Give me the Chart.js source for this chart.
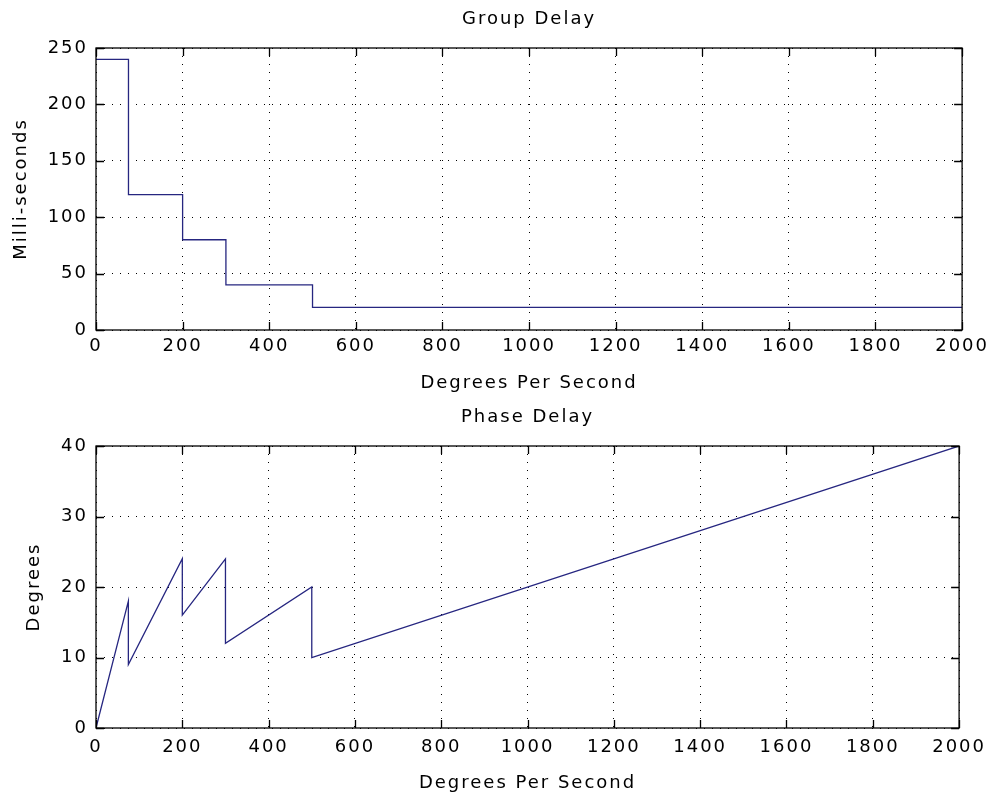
<!DOCTYPE html>
<html lang="en">
  <head>
    <meta charset="UTF-8" />
    <title>Group Delay / Phase Delay</title>
    <style>
      body { margin: 0; background: #fff; }
      canvas { display: block; }
    </style>
  </head>
  <body>
    <canvas id="groupChart" width="995" height="400"></canvas>
    <canvas id="phaseChart" width="995" height="400"></canvas>

    <script src="https://cdn.jsdelivr.net/npm/chart.js@4.4.0/dist/chart.umd.min.js"></script>
    <script>
      const groupFreq = [0, 75, 75, 200, 200, 300, 300, 500, 500, 2000];
      const groupDelay = [240, 240, 120, 120, 80, 80, 40, 40, 20, 20];

      const phaseFreq = [0, 75, 75, 200, 200, 300, 300, 500, 500, 2000];
      const phaseDeg = [0, 18, 9, 24, 16, 24, 12, 20, 10, 40];

      const xTicks = [0, 200, 400, 600, 800, 1000, 1200, 1400, 1600, 1800, 2000];

      const lineColor = "#262680";
      const font = { family: "'DejaVu Sans', sans-serif", size: 18, weight: "normal" };

      Chart.defaults.color = "#000";
      Chart.defaults.font = font;

      // old matlab text looks wide, so space out the letters a bit
      const spacing = {
        id: "spacing",
        beforeLayout(chart) { chart.ctx.letterSpacing = "2px"; },
        beforeDraw(chart) { chart.ctx.letterSpacing = "2px"; },
      };

      // box round the plot with ticks pointing inwards on all sides
      const frame = {
        id: "frame",
        afterDraw(chart) {
          const { ctx, chartArea: a, scales } = chart;
          const len = 8;
          ctx.save();
          ctx.strokeStyle = "#000";
          ctx.lineWidth = 1.3;
          ctx.setLineDash([]);
          ctx.beginPath();
          scales.x.ticks.forEach((t) => {
            const px = Math.round(scales.x.getPixelForValue(t.value)) + 0.5;
            ctx.moveTo(px, a.bottom); ctx.lineTo(px, a.bottom - len);
            ctx.moveTo(px, a.top); ctx.lineTo(px, a.top + len);
          });
          scales.y.ticks.forEach((t) => {
            const py = Math.round(scales.y.getPixelForValue(t.value)) + 0.5;
            ctx.moveTo(a.left, py); ctx.lineTo(a.left + len, py);
            ctx.moveTo(a.right, py); ctx.lineTo(a.right - len, py);
          });
          ctx.stroke();
          ctx.strokeRect(a.left, a.top, a.right - a.left, a.bottom - a.top);
          ctx.restore();
        },
      };

      function makeOptions(t) {
        return {
          responsive: false,
          animation: false,
          devicePixelRatio: 1,
          layout: { autoPadding: false, padding: { left: 0, right: 32, top: 0, bottom: 0 } },
          plugins: {
            legend: { display: false },
            tooltip: { enabled: false },
            title: { display: false },
          },
          scales: {
            x: {
              type: "linear",
              min: 0,
              max: 2000,
              afterBuildTicks: (s) => { s.ticks = xTicks.map((v) => ({ value: v })); },
              afterFit: (s) => { s.height = t.xHeight; },
              ticks: { padding: t.xPad, maxRotation: 0, autoSkip: false, callback: (v) => String(v) },
              grid: { color: "#000", lineWidth: 1, drawTicks: false },
              border: { display: false, dash: [1, 7] },
              title: {
                display: true,
                text: "Degrees Per Second",
                color: "#000",
                font: font,
                padding: { top: 0, bottom: 6 },
              },
            },
            // top axis only carries the plot title, so it sits centred over the axes
            top: {
              type: "linear",
              position: "top",
              min: 0,
              max: 2000,
              afterFit: (s) => { s.height = t.topHeight; },
              ticks: { display: false },
              grid: { display: false, drawTicks: false },
              border: { display: false },
              title: {
                display: true,
                text: t.title,
                color: "#000",
                font: font,
                padding: { top: t.titleTop, bottom: 0 },
              },
            },
            y: {
              min: 0,
              max: t.yMax,
              afterBuildTicks: (s) => { s.ticks = t.yTicks.map((v) => ({ value: v })); },
              afterFit: (s) => { s.width = 96; },
              ticks: { padding: 8, callback: (v) => String(v) },
              grid: { color: "#000", lineWidth: 1, drawTicks: false },
              border: { display: false, dash: [1, 7] },
              title: {
                display: true,
                text: t.yTitle,
                color: "#000",
                font: font,
                padding: { top: t.yTitlePad, bottom: 0 },
              },
            },
          },
        };
      }

      new Chart(document.getElementById("groupChart"), {
        type: "line",
        data: {
          datasets: [{
            data: groupFreq.map((f, i) => ({ x: f, y: groupDelay[i] })),
            borderColor: lineColor,
            borderWidth: 1.3,
            pointRadius: 0,
            tension: 0,
            fill: false,
          }],
        },
        options: makeOptions({
          title: "Group Delay",
          titleTop: 9, topHeight: 48,
          xHeight: 70, xPad: 6,
          yMax: 250, yTicks: [0, 50, 100, 150, 200, 250],
          yTitle: "Milli-seconds", yTitlePad: 11,
        }),
        plugins: [spacing, frame],
      });

      new Chart(document.getElementById("phaseChart"), {
        type: "line",
        data: {
          datasets: [{
            data: phaseFreq.map((f, i) => ({ x: f, y: phaseDeg[i] })),
            borderColor: lineColor,
            borderWidth: 1.3,
            pointRadius: 0,
            tension: 0,
            fill: false,
          }],
        },
        options: makeOptions({
          title: "Phase Delay",
          titleTop: 7, topHeight: 46,
          xHeight: 72, xPad: 9,
          yMax: 40, yTicks: [0, 10, 20, 30, 40],
          yTitle: "Degrees", yTitlePad: 24,
        }),
        plugins: [spacing, frame],
      });
    </script>
  </body>
</html>
